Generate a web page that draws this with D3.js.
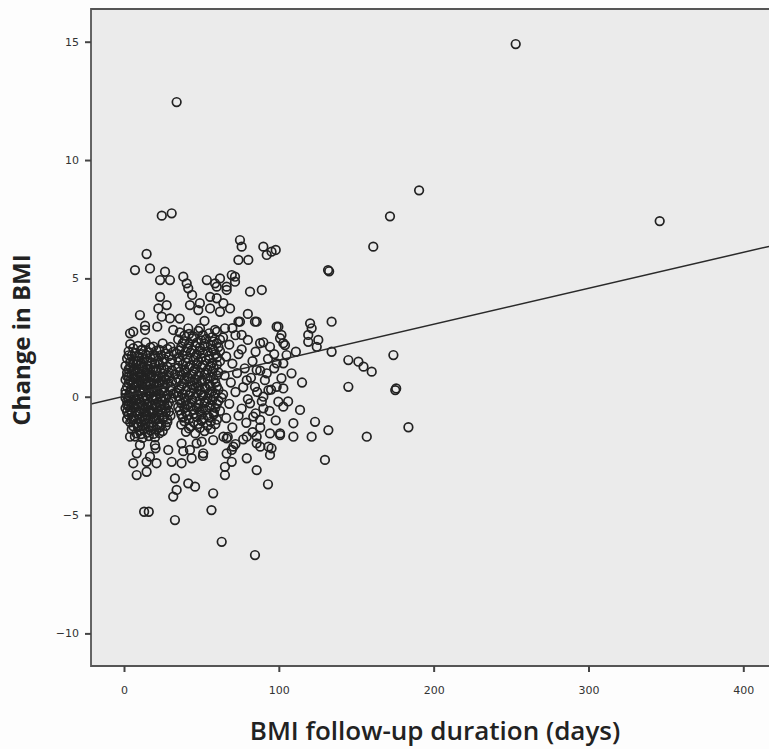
<!DOCTYPE html>
<html>
<head>
<meta charset="utf-8">
<script src="https://cdn.jsdelivr.net/npm/d3@7"></script>
<style>
  body { margin: 0; background: #fdfdfd; }
  svg { display: block; }
</style>
</head>
<body>
<script>
const w = 769;
const h = 749;

// axis ticks
const xTicks = [0, 100, 200, 300, 400];
const yTicks = [-10, -5, 0, 5, 10, 15];

// fit line: change = intercept + slope * days
const intercept = 0.02;
const slope = 0.0152;

// [days, change in BMI]
const outliers = [
  [253, 14.9], [34, 12.45], [346, 7.42], [190.6, 8.72], [171.8, 7.62],
  [161, 6.34], [131.8, 5.35], [132.5, 5.3], [24.4, 7.65], [30.8, 7.75],
  [14.6, 6.03], [7.1, 5.35], [16.8, 5.42], [26.5, 5.28], [23.3, 4.93],
  [29.7, 4.93], [38.3, 5.07], [40.5, 4.79], [41.5, 4.58], [53.5, 4.93],
  [62, 5.0], [59.9, 4.65], [58.8, 4.79], [66.3, 4.65], [66.3, 4.51],
  [69.6, 5.14], [71.7, 4.86], [71.7, 5.07], [74.9, 6.62], [76, 6.34],
  [73.9, 5.78], [80.3, 5.78], [90, 6.34], [92.2, 5.99], [98, 6.2],
  [95.3, 6.13], [81.4, 4.44], [89, 4.51], [23.3, 4.22]
];

const upper = [
  [27.6, 3.87], [22.2, 3.73], [42.6, 3.87], [48, 3.66], [55.6, 3.73],
  [59.9, 4.16], [64.2, 3.95], [68.5, 3.73], [62, 3.59], [10.3, 3.45],
  [24.4, 3.38], [29.7, 3.31], [6, 2.75], [13.6, 2.82], [21.5, 2.96],
  [31.8, 2.82], [41.5, 2.89], [49.1, 2.89], [58.8, 2.82], [65.2, 2.89],
  [74.9, 3.17], [84.6, 3.17], [76, 2.61], [85.7, 3.17], [99.7, 2.96],
  [101.7, 2.61], [104, 2.18], [120.2, 3.1], [121.2, 2.89], [119, 2.61],
  [119, 2.32], [125.5, 2.4], [134.1, 3.17], [87.9, 2.26], [94.3, 2.11],
  [102.9, 2.26], [124.5, 2.11], [134.1, 1.9], [49, 3.95], [55.6, 4.22],
  [73.9, 3.17], [98.6, 2.96], [100.8, 2.47], [3.9, 2.68], [13.6, 3.0],
  [36, 3.3], [52, 3.2], [70, 2.9], [80, 3.5], [44, 4.3]
];

const rightSide = [
  [144.9, 1.55], [151.4, 1.48], [154.7, 1.27], [160, 1.06], [174, 1.76],
  [144.9, 0.42], [175.2, 0.28], [175.8, 0.35], [105, 1.76], [102.9, 1.41],
  [108.2, 0.99], [101.7, 0.78], [92.2, 0.99], [102.9, 0.35], [93.3, 0.28],
  [84.6, 0.42], [99.7, -0.21], [90, -0.49], [113.7, -0.56], [87.9, -0.98],
  [109.4, -1.12], [109.4, -1.69], [100.8, -1.62], [123.4, -1.06], [132, -1.41],
  [121.2, -1.69], [85.7, -1.69], [93.3, -2.11], [88, -2.11], [129.8, -2.67],
  [156.8, -1.69], [183.7, -1.29], [111, 1.9], [115, 0.6], [106, -0.2],
  [97, 1.8], [93, -3.7], [94.3, -2.46]
];

const lower = [
  [6, -2.81], [8.2, -3.31], [14.6, -3.17], [21, -2.81], [16.8, -2.53],
  [28.6, -2.25], [37.2, -2.81], [43.7, -2.6], [51.2, -2.39], [50.2, -1.9],
  [32.9, -3.45], [41.5, -3.66], [45.9, -3.8], [31.8, -4.22], [34, -3.94],
  [57.6, -4.08], [56.5, -4.79], [13, -4.86], [16, -4.86], [32.9, -5.21],
  [63.1, -6.13], [84.6, -6.69], [65.2, -2.96], [65.2, -3.31], [69.6, -2.75],
  [69.6, -2.25], [79.3, -2.6], [85.7, -3.1], [66.3, -1.76], [10.3, -2.04],
  [20, -2.04], [37.2, -1.97], [42.6, -2.25], [3.9, -1.69], [8.2, -2.39],
  [14.6, -2.75], [20.4, -2.18], [30.8, -2.75], [38.3, -2.3], [46.9, -1.97],
  [51, -2.5], [57.6, -1.83], [64.2, -1.69], [66.3, -2.4], [70.6, -2.11],
  [79.3, -1.69], [85.7, -1.97], [95.3, -2.18], [94.3, -1.55], [100.8, -1.55]
];

const coreA = [
  [4, 2.22], [9, 2.15], [14, 2.3], [19, 2.12], [25, 2.25], [30, 2.1],
  [3, 1.92], [7, 1.85], [11, 1.97], [16, 1.88], [21, 1.95], [27, 1.83], [32, 1.9],
  [2, 1.62], [6, 1.55], [10, 1.66], [13, 1.58], [17, 1.64], [22, 1.52], [26, 1.6], [31, 1.57],
  [1, 1.3], [4, 1.24], [8, 1.35], [12, 1.28], [15, 1.33], [19, 1.22], [23, 1.36], [28, 1.27],
  [2, 1.02], [5, 0.95], [9, 1.05], [11, 0.98], [14, 1.04], [18, 0.93], [21, 1.07], [25, 0.97], [29, 1.03], [33, 0.95],
  [1, 0.72], [4, 0.66], [7, 0.75], [10, 0.68], [13, 0.73], [16, 0.64], [20, 0.76], [24, 0.69], [27, 0.74], [31, 0.65],
  [2, 0.42], [5, 0.36], [8, 0.45], [12, 0.38], [15, 0.44], [18, 0.35], [22, 0.43], [26, 0.37], [30, 0.41],
  [1, 0.12], [3, 0.05], [6, 0.14], [9, 0.07], [11, 0.15], [14, 0.06], [17, 0.13], [20, 0.04], [23, 0.11], [28, 0.08], [32, 0.14],
  [2, -0.18], [5, -0.25], [8, -0.15], [10, -0.22], [13, -0.17], [16, -0.26], [19, -0.14], [22, -0.23], [25, -0.19], [29, -0.24],
  [1, -0.48], [4, -0.55], [7, -0.45], [11, -0.52], [14, -0.47], [17, -0.56], [21, -0.46], [24, -0.53], [27, -0.49],
  [3, -0.78], [6, -0.85], [9, -0.76], [12, -0.83], [15, -0.77], [19, -0.86], [23, -0.79], [26, -0.84], [30, -0.8],
  [4, -1.08], [8, -1.14], [11, -1.06], [14, -1.12], [18, -1.1], [22, -1.15], [28, -1.07],
  [5, -1.38], [10, -1.44], [13, -1.36], [17, -1.42], [21, -1.39], [25, -1.45],
  [7, -1.68], [12, -1.74], [16, -1.66], [20, -1.72]
];

const coreA2 = [
  [3, 1.75], [6, 1.4], [9, 1.5], [12, 1.8], [15, 1.15], [18, 1.45], [20, 1.75], [24, 1.2],
  [6, 1.1], [3, 0.85], [8, 0.55], [11, 0.82], [14, 0.52], [17, 0.85], [20, 0.25], [23, 0.58],
  [26, 0.22], [5, 0.25], [2, -0.35], [7, -0.05], [10, -0.62], [13, 0.28], [15, -0.35], [18, -0.65],
  [21, -0.05], [24, -0.38], [27, -0.65], [6, -0.95], [9, -1.25], [13, -0.95], [16, -1.25], [20, -0.92],
  [24, -1.2], [19, 0.52], [16, 0.95], [12, 0.55]
];

const coreA3 = [
  [6, 2.05], [12, 2.0], [17, 2.08], [23, 1.98], [28, 2.02],
  [5, 1.74], [9, 1.7], [14, 1.78], [19, 1.68], [24, 1.76], [29, 1.72],
  [4, 1.45], [8, 1.48], [11, 1.42], [15, 1.5], [20, 1.4], [25, 1.46], [30, 1.44],
  [3, 1.16], [7, 1.12], [10, 1.18], [13, 1.1], [17, 1.17], [21, 1.13], [26, 1.15], [31, 1.12],
  [2, 0.86], [6, 0.83], [9, 0.88], [12, 0.84], [15, 0.87], [19, 0.82], [22, 0.86], [26, 0.83], [29, 0.88],
  [3, 0.56], [6, 0.53], [9, 0.58], [11, 0.54], [14, 0.57], [17, 0.52], [21, 0.56], [25, 0.53], [28, 0.57],
  [1, 0.26], [4, 0.23], [7, 0.28], [10, 0.24], [13, 0.27], [16, 0.22], [19, 0.26], [21, 0.23], [24, 0.27], [30, 0.25],
  [1, -0.05], [3, -0.08], [6, -0.03], [9, -0.07], [12, -0.04], [15, -0.09], [18, -0.03], [21, -0.06], [24, -0.02], [27, -0.08], [31, -0.05],
  [3, -0.35], [6, -0.38], [9, -0.33], [12, -0.37], [15, -0.32], [18, -0.36], [20, -0.34], [23, -0.38], [26, -0.33], [28, -0.37],
  [2, -0.64], [5, -0.67], [8, -0.62], [13, -0.66], [16, -0.63], [19, -0.68], [22, -0.62], [25, -0.66], [29, -0.63],
  [2, -0.95], [5, -0.97], [10, -0.93], [14, -0.96], [17, -0.92], [21, -0.97], [25, -0.94], [28, -0.96],
  [6, -1.25], [9, -1.28], [12, -1.22], [16, -1.27], [19, -1.24], [23, -1.29], [27, -1.23],
  [8, -1.55], [11, -1.58], [15, -1.52], [19, -1.57], [23, -1.54]
];

const coreB = [
  [36, 2.72], [42, 2.65], [48, 2.78], [55, 2.68], [60, 2.75],
  [35, 2.42], [39, 2.35], [44, 2.46], [50, 2.38], [53, 2.44], [58, 2.33], [62, 2.41],
  [37, 2.12], [41, 2.05], [46, 2.15], [49, 2.08], [52, 2.14], [57, 2.03], [61, 2.1],
  [34, 1.82], [38, 1.75], [43, 1.86], [47, 1.78], [51, 1.84], [55, 1.73], [59, 1.8],
  [36, 1.52], [40, 1.45], [45, 1.55], [48, 1.48], [53, 1.54], [57, 1.43], [62, 1.5],
  [35, 1.22], [39, 1.15], [42, 1.25], [46, 1.18], [50, 1.24], [54, 1.13], [58, 1.2],
  [37, 0.92], [41, 0.85], [44, 0.95], [48, 0.88], [52, 0.94], [56, 0.83], [60, 0.9],
  [34, 0.62], [38, 0.55], [43, 0.65], [47, 0.58], [50, 0.64], [55, 0.53], [59, 0.6],
  [36, 0.32], [40, 0.25], [45, 0.35], [49, 0.28], [53, 0.34], [57, 0.23], [61, 0.3],
  [35, 0.02], [39, -0.05], [42, 0.05], [46, -0.02], [51, 0.04], [54, -0.07], [58, 0.0], [63, -0.04],
  [37, -0.28], [41, -0.35], [44, -0.25], [48, -0.32], [52, -0.26], [56, -0.37], [60, -0.3],
  [36, -0.58], [40, -0.65], [45, -0.55], [49, -0.62], [53, -0.56], [58, -0.67], [62, -0.6],
  [38, -0.88], [42, -0.95], [47, -0.85], [51, -0.92], [55, -0.86], [60, -0.97],
  [37, -1.18], [43, -1.25], [48, -1.15], [54, -1.22], [59, -1.16],
  [40, -1.48], [46, -1.55], [52, -1.45]
];

const coreB2 = [
  [39, 2.58], [45, 2.55], [51, 2.6], [57, 2.52],
  [38, 2.26], [42, 2.22], [47, 2.28], [52, 2.24], [56, 2.2], [60, 2.26],
  [36, 1.96], [40, 1.92], [44, 1.98], [49, 1.94], [54, 1.9], [58, 1.96], [62, 1.93],
  [35, 1.66], [41, 1.62], [46, 1.68], [50, 1.64], [55, 1.6], [60, 1.66],
  [38, 1.36], [43, 1.32], [47, 1.38], [51, 1.34], [56, 1.3], [60, 1.36],
  [36, 1.06], [40, 1.02], [45, 1.08], [49, 1.04], [53, 1.0], [57, 1.06], [61, 1.03],
  [35, 0.76], [39, 0.72], [42, 0.78], [46, 0.74], [50, 0.7], [54, 0.76], [58, 0.73],
  [37, 0.46], [41, 0.42], [44, 0.48], [48, 0.44], [52, 0.4], [56, 0.46], [60, 0.43],
  [34, 0.16], [38, 0.12], [43, 0.18], [47, 0.14], [50, 0.1], [55, 0.16], [59, 0.13],
  [36, -0.14], [40, -0.18], [44, -0.12], [49, -0.16], [53, -0.2], [57, -0.14], [61, -0.17],
  [35, -0.44], [39, -0.48], [43, -0.42], [47, -0.46], [51, -0.5], [55, -0.44], [59, -0.47],
  [37, -0.74], [41, -0.78], [45, -0.72], [50, -0.76], [54, -0.8], [58, -0.74],
  [39, -1.04], [45, -1.08], [50, -1.02], [56, -1.06],
  [42, -1.34], [49, -1.32], [56, -1.36]
];

const zoneC = [
  [64, 2.5], [68, 2.2], [72, 2.6], [76, 2.0], [80, 2.4], [85, 1.9], [90, 2.3],
  [66, 1.7], [70, 1.4], [74, 1.8], [78, 1.2], [83, 1.5], [88, 1.1], [93, 1.6],
  [65, 0.9], [69, 0.6], [73, 1.0], [77, 0.4], [82, 0.8], [86, 0.2], [91, 0.7], [95, 0.3],
  [64, 0.1], [68, -0.3], [72, 0.2], [76, -0.5], [80, -0.1], [85, -0.7], [89, -0.2],
  [66, -0.9], [70, -1.3], [74, -0.8], [79, -1.1], [83, -1.5], [67, -1.7], [72, -2.0],
  [77, -1.8], [88, -1.3], [94, -0.6], [97, 1.2], [98, -1.0], [83.5, -0.84], [81.4, -0.28],
  [90, 0.0], [98.6, 0.42], [102.9, -0.42], [79.3, 0.7], [85.7, 1.13], [98.6, 1.41]
];

const points = [
  ...outliers, ...upper, ...rightSide, ...lower,
  ...coreA, ...coreA2, ...coreA3, ...coreB, ...coreB2, ...zoneC
];

const svg = d3.select('body').append('svg').attr('width', w).attr('height', h);

const plot = { left: 91, top: 9, right: 769, bottom: 666 };

const xScale = d3.scaleLinear().domain([0, 400]).range([124, 743.3]);
const yScale = d3.scaleLinear().domain([-10, 15]).range([633.4, 41.7]);

svg.append('rect')
  .attr('x', plot.left).attr('y', plot.top)
  .attr('width', plot.right - plot.left + 2).attr('height', plot.bottom - plot.top)
  .attr('fill', '#ebebeb');

svg.append('clipPath').attr('id', 'clip')
  .append('rect')
  .attr('x', plot.left).attr('y', plot.top)
  .attr('width', plot.right - plot.left).attr('height', plot.bottom - plot.top);

const g = svg.append('g').attr('clip-path', 'url(#clip)');

g.selectAll('circle')
  .data(points)
  .enter()
  .append('circle')
  .attr('cx', (d) => xScale(d[0]))
  .attr('cy', (d) => yScale(d[1]))
  .attr('r', 4.3)
  .attr('fill', 'none')
  .attr('stroke', '#222')
  .attr('stroke-width', 1.7);

// fit line across the plot
const x0 = xScale.invert(plot.left);
const x1 = xScale.invert(plot.right);
g.append('line')
  .attr('x1', xScale(x0)).attr('y1', yScale(intercept + slope * x0))
  .attr('x2', xScale(x1)).attr('y2', yScale(intercept + slope * x1))
  .attr('stroke', '#2a2a2a')
  .attr('stroke-width', 1.5);

// frame
svg.append('path')
  .attr('d', `M${plot.right},${plot.top}H${plot.left}V${plot.bottom}H${plot.right}`)
  .attr('fill', 'none')
  .attr('stroke', '#555')
  .attr('stroke-width', 1.8);

const xAxis = d3.axisBottom(xScale).tickValues(xTicks).tickSize(6).tickPadding(14);
const yAxis = d3.axisLeft(yScale).tickValues(yTicks).tickSize(6).tickPadding(6);

const xg = svg.append('g').attr('id', 'x-axis')
  .attr('transform', `translate(0,${plot.bottom})`).call(xAxis);
const yg = svg.append('g').attr('id', 'y-axis')
  .attr('transform', `translate(${plot.left},0)`).call(yAxis);

[xg, yg].forEach((a) => {
  a.select('.domain').remove();
  a.selectAll('line').attr('stroke', '#444').attr('stroke-width', 2);
  a.selectAll('text')
    .attr('fill', '#333')
    .style('font-family', 'DejaVu Sans, sans-serif')
    .style('font-size', '11px');
});

svg.append('text')
  .attr('x', 435)
  .attr('y', 740)
  .attr('text-anchor', 'middle')
  .attr('fill', '#222')
  .style('font-family', 'Open Sans, sans-serif')
  .style('font-weight', 600)
  .style('font-size', '26px')
  .text('BMI follow-up duration (days)');

svg.append('text')
  .attr('transform', 'translate(30,340) rotate(-90)')
  .attr('text-anchor', 'middle')
  .attr('fill', '#222')
  .style('font-family', 'Open Sans, sans-serif')
  .style('font-weight', 700)
  .style('font-size', '24px')
  .text('Change in BMI');
</script>
</body>
</html>
